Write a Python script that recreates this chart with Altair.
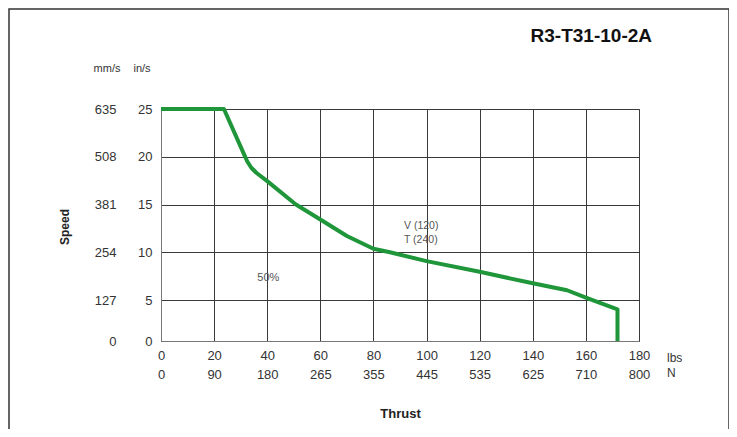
import altair as alt
import pandas as pd

# ---- data ----
thrust_lbs = [0, 23.7, 31.2, 32.5, 34.0, 36.0, 40.0, 50.8, 60.0, 70.0, 80.0, 86.2, 100.0, 120.0, 140.0, 152.9, 160.0, 171.9, 171.9]
speed_ins = [25, 25, 20.3, 19.5, 18.85, 18.3, 17.45, 15.0, 13.43, 11.7, 10.37, 10.0, 9.07, 7.95, 6.75, 6.02, 5.25, 3.87, 0]

x_ticks_lbs = [0, 20, 40, 60, 80, 100, 120, 140, 160, 180]
x_labels_n = ["0", "90", "180", "265", "355", "445", "535", "625", "710", "800"]
y_ticks_ins = [0, 5, 10, 15, 20, 25]
y_labels_mms = ["0", "127", "254", "381", "508", "635"]

ann_left_text = ["V (120)", "T (240)"]
ann_left_x = [91.5, 91.5]
ann_left_y = [12.73, 11.27]
ann_center_text = ["50%"]
ann_center_x = [40.4]
ann_center_y = [7.27]

title_text = "R3-T31-10-2A"

FONT = "Liberation Sans"
GREEN = "#1e9639"

curve = pd.DataFrame({"lbs": thrust_lbs, "ins": speed_ins, "order": list(range(len(thrust_lbs)))})
ann_l = pd.DataFrame({"t": ann_left_text, "lbs": ann_left_x, "ins": ann_left_y})
ann_c = pd.DataFrame({"t": ann_center_text, "lbs": ann_center_x, "ins": ann_center_y})

W, H = 478, 232
yscale = alt.Scale(domain=[0, 5, 25], range=[H, 191, 0], nice=False, zero=False)
xscale = alt.Scale(domain=[0, 180], nice=False, zero=False)

n_arr = "[" + ",".join("'" + s + "'" for s in x_labels_n) + "]"
mm_arr = "[" + ",".join("'" + s + "'" for s in y_labels_mms) + "]"

x_axis = alt.Axis(
    values=x_ticks_lbs, grid=True, gridColor="#3a3a3a", gridWidth=1,
    domainColor="#777", ticks=False, labelPadding=8, labelFlush=False,
    labelExpr="[datum.label, " + n_arr + "[round(datum.value/20)]]",
    labelLineHeight=19, labelFontSize=13, labelColor="#333",
    title="Thrust", titleFontSize=13, titleFontWeight="bold", titleColor="#222",
    titleY=72, titleBaseline="middle",
)

y_axis_in = alt.Axis(
    values=y_ticks_ins, grid=True, gridColor="#3a3a3a", gridWidth=1,
    domainColor="#777", ticks=False, labelPadding=9, orient="left", labelFlush=False,
    labelFontSize=13, labelColor="#333", title=None,
)
y_axis_mm = alt.Axis(
    values=y_ticks_ins, grid=False, domain=False, ticks=False, labelPadding=45,
    orient="left", labelFlush=False, labelExpr=mm_arr + "[round(datum.value/5)]",
    labelFontSize=13, labelColor="#333", title=None,
)

line = alt.Chart(curve).mark_line(color=GREEN, strokeWidth=4, strokeJoin="round").encode(
    x=alt.X("lbs:Q", scale=xscale, axis=x_axis),
    y=alt.Y("ins:Q", scale=yscale, axis=y_axis_in),
    order="order:Q",
)

annot_l = alt.Chart(ann_l).mark_text(font=FONT, fontSize=10.5, color="#555", baseline="middle", align="left").encode(
    x=alt.X("lbs:Q", scale=xscale, axis=x_axis),
    y=alt.Y("ins:Q", scale=yscale, axis=y_axis_mm),
    text="t:N",
)

annot_c = alt.Chart(ann_c).mark_text(font=FONT, fontSize=11, color="#555", baseline="middle", align="center").encode(
    x=alt.X("lbs:Q", scale=xscale, axis=x_axis),
    y=alt.Y("ins:Q", scale=yscale, axis=None),
    text="t:N",
)

blank = pd.DataFrame({"k": [0]})

title_mark = alt.Chart(blank).mark_text(
    text=title_text, font=FONT, fontSize=19, fontWeight="bold", color="#111",
    align="right", baseline="middle",
).encode(x=alt.value(491), y=alt.value(-73))

speed_mark = alt.Chart(blank).mark_text(
    text="Speed", font=FONT, fontSize=12, fontWeight="bold", color="#222",
    angle=270, align="center", baseline="middle",
).encode(x=alt.value(-96), y=alt.value(118))

mms_mark = alt.Chart(blank).mark_text(
    text="mm/s", font=FONT, fontSize=11, color="#333", align="center", baseline="middle",
).encode(x=alt.value(-54), y=alt.value(-40))

ins_mark = alt.Chart(blank).mark_text(
    text="in/s", font=FONT, fontSize=11, color="#333", align="center", baseline="middle",
).encode(x=alt.value(-19), y=alt.value(-40))

lbs_mark = alt.Chart(blank).mark_text(
    text="lbs", font=FONT, fontSize=12, color="#333", align="left", baseline="middle",
).encode(x=alt.value(506), y=alt.value(249))

n_mark = alt.Chart(blank).mark_text(
    text="N", font=FONT, fontSize=12, color="#333", align="left", baseline="middle",
).encode(x=alt.value(506), y=alt.value(264))

frame = alt.Chart(blank).mark_rect(fillOpacity=0, stroke="#333", strokeWidth=1.5).encode(
    x=alt.value(-152), x2=alt.value(568), y=alt.value(-100), y2=alt.value(340)
)

chart = (
    alt.layer(frame, line, annot_l, annot_c, title_mark, speed_mark, mms_mark, ins_mark, lbs_mark, n_mark)
    .resolve_axis(y="independent")
    .properties(
        width=W, height=H,
        autosize=alt.AutoSizeParams(type="none"),
        padding={"left": 153, "top": 101, "right": 90, "bottom": 88},
    )
    .configure(font=FONT)
    .configure_axis(labelFont=FONT, titleFont=FONT)
    .configure_view(stroke="#555", strokeWidth=1)
)

chart.save("out.html", embed_options={"renderer": "svg", "actions": False})
